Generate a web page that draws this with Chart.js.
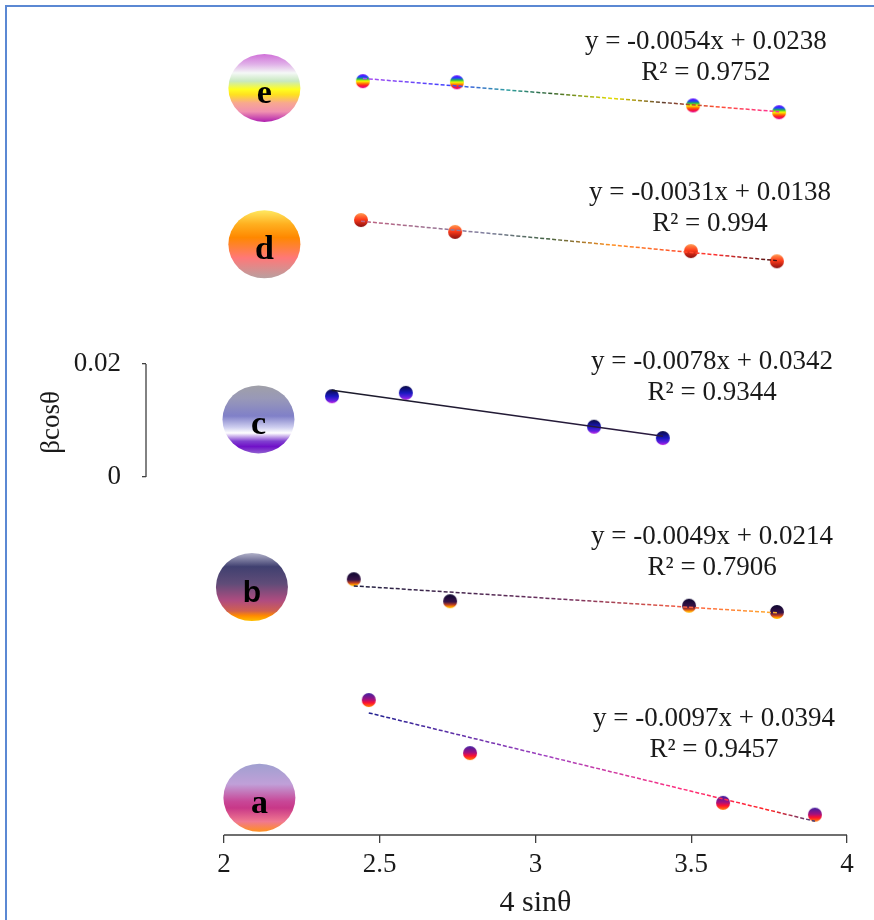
<!DOCTYPE html>
<html>
<head>
<meta charset="utf-8">
<script src="https://cdn.jsdelivr.net/npm/chart.js@4.4.0/dist/chart.umd.min.js"></script>
<style>
  html, body { margin: 0; padding: 0; background: #fff; }
  #wrap { position: relative; width: 874px; height: 920px; overflow: hidden; }
  #frame { position: absolute; left: 5px; top: 5px; width: 900px; height: 950px;
           border-left: 2px solid #5b88d3; border-top: 2px solid #5b88d3; pointer-events: none; }
  canvas { position: absolute; left: 0; top: 0; }
</style>
</head>
<body>
<div id="wrap">
  <canvas id="chart" width="874" height="920"></canvas>
  <div id="frame"></div>
</div>
<script>
// samples, top to bottom as they are stacked in the figure
const SAMPLES = [`e`, `d`, `c`, `b`, `a`];

// 4 sinθ
const xE = [2.446, 2.748, 3.506, 3.782];
const xD = [2.440, 2.742, 3.499, 3.775];
const xC = [2.347, 2.584, 3.188, 3.409];
const xB = [2.417, 2.726, 3.493, 3.775];
const xA = [2.465, 2.790, 3.602, 3.897];

// βcosθ as plotted (curves are shifted up/down to stack them)
const yE = [0.0701, 0.0699, 0.0658, 0.0646];
const yD = [0.0455, 0.0434, 0.0400, 0.0382];
const yC = [0.0143, 0.0149, 0.0089, 0.0069];
const yB = [-0.0181, -0.0220, -0.0228, -0.0239];
const yA = [-0.0395, -0.0489, -0.0577, -0.0598];

const equations = [
  `y = -0.0054x + 0.0238`,
  `y = -0.0031x + 0.0138`,
  `y = -0.0078x + 0.0342`,
  `y = -0.0049x + 0.0214`,
  `y = -0.0097x + 0.0394`,
];
const rSquared = [`R² = 0.9752`, `R² = 0.994`, `R² = 0.9344`, `R² = 0.7906`, `R² = 0.9457`];

const xTicks = [2, 2.5, 3, 3.5, 4];
const yTicks = [0, 0.02];

const X_TITLE = `4 sinθ`;
const Y_TITLE = `βcosθ`;

const SERIF = `"Liberation Serif", "Times New Roman", serif`;
const SANS = `"Liberation Sans", Arial, sans-serif`;
const TEXT_COLOR = `#1a1a1a`;
const AXIS_COLOR = `#404040`;

const xs = [xE, xD, xC, xB, xA];
const ys = [yE, yD, yC, yB, yA];

// where the letter disks and the trendline labels sit, in axis units
const badgeX = [2.130, 2.130, 2.111, 2.090, 2.114];
const badgeY = [0.0689, 0.0412, 0.0102, -0.0195, -0.0568];
const labelX = [3.547, 3.560, 3.567, 3.567, 3.573];
const labelY = [0.0770, 0.0503, 0.0204, -0.0106, -0.0428];

const MARKER_STOPS = [
  [[0, `#6a00ff`], [0.2, `#2040ff`], [0.35, `#20c040`], [0.5, `#ffff00`], [0.65, `#ff8000`], [0.8, `#ff2020`], [1, `#e000a0`]],
  [[0, `#ff9a50`], [0.45, `#ff3b1a`], [1, `#8a1010`]],
  [[0, `#0a0a40`], [0.5, `#1818c0`], [0.8, `#6020e0`], [1, `#c020e0`]],
  [[0, `#0d0630`], [0.55, `#3a1448`], [0.75, `#c04020`], [0.88, `#ff9000`], [1, `#ffd000`]],
  [[0, `#4020a0`], [0.45, `#a01080`], [0.7, `#ff1030`], [1, `#ff8000`]],
];

const LINE_STOPS = [
  [[0, `#b050f0`], [0.2, `#4040ff`], [0.35, `#30a0a0`], [0.45, `#306030`], [0.6, `#e8e000`], [0.72, `#604030`], [0.85, `#ff5030`], [1, `#ff30a0`]],
  [[0, `#c06080`], [0.3, `#8080a0`], [0.45, `#406040`], [0.6, `#ff9020`], [0.85, `#ff3030`], [1, `#401010`]],
  [[0, `#1a1a2a`], [1, `#2a1a40`]],
  [[0, `#202040`], [0.5, `#703060`], [0.8, `#ff6040`], [1, `#ffb030`]],
  [[0, `#202090`], [0.4, `#a040c0`], [0.7, `#ff3080`], [0.9, `#ff2020`], [1, `#404080`]],
];

const BADGE_STOPS = [
  [[0, `#d070d8`], [0.15, `#e0b0e8`], [0.28, `#f4f8f6`], [0.4, `#c8e8c0`], [0.52, `#ffff20`], [0.6, `#ffe020`], [0.72, `#f8a890`], [0.85, `#f090b0`], [1, `#b020b0`]],
  [[0, `#ffe860`], [0.2, `#ffb020`], [0.4, `#ff8800`], [0.7, `#ff7878`], [1, `#b8a0a0`]],
  [[0, `#a0a0a8`], [0.2, `#9898b8`], [0.45, `#8080c8`], [0.62, `#d0d0f0`], [0.7, `#ffffff`], [0.82, `#8040d0`], [0.9, `#7010c8`], [1, `#9060d0`]],
  [[0, `#b0b0c8`], [0.2, `#404070`], [0.45, `#604c78`], [0.7, `#b04c80`], [0.85, `#d06050`], [0.92, `#ff8a00`], [1, `#ffc000`]],
  [[0, `#a0a0d0`], [0.3, `#c0a0d8`], [0.55, `#c84898`], [0.65, `#c83888`], [0.85, `#f07890`], [1, `#ff9020`]],
];

const fitLine = (xv, yv) => {
  const n = xv.length;
  const mx = xv.reduce((s, v) => s + v, 0) / n;
  const my = yv.reduce((s, v) => s + v, 0) / n;
  let sxy = 0;
  let sxx = 0;
  for (let i = 0; i < n; i++) {
    sxy += (xv[i] - mx) * (yv[i] - my);
    sxx += (xv[i] - mx) * (xv[i] - mx);
  }
  const k = sxy / sxx;
  const b = my - k * mx;
  return [{x: xv[0], y: k * xv[0] + b}, {x: xv[n - 1], y: k * xv[n - 1] + b}];
};

const makeMarker = (stops, r) => {
  const c = document.createElement(`canvas`);
  c.width = c.height = r * 2 + 2;
  const g = c.getContext(`2d`);
  const grad = g.createLinearGradient(0, 1, 0, 2 * r + 1);
  stops.forEach(([o, col]) => grad.addColorStop(o, col));
  g.fillStyle = grad;
  g.beginPath();
  g.arc(r + 1, r + 1, r, 0, Math.PI * 2);
  g.fill();
  return c;
};

const lineGradient = (stops) => (context) => {
  const {chart} = context;
  const {ctx, chartArea, scales} = chart;
  if (!chartArea) {
    return stops[0][1];
  }
  const pts = chart.data.datasets[context.datasetIndex].data;
  const x0 = scales.x.getPixelForValue(pts[0].x);
  const x1 = scales.x.getPixelForValue(pts[pts.length - 1].x);
  const grad = ctx.createLinearGradient(x0, 0, x1, 0);
  stops.forEach(([o, col]) => grad.addColorStop(o, col));
  return grad;
};

const datasets = [];
SAMPLES.forEach((name, i) => {
  datasets.push({
    type: `line`,
    label: `fit ${name}`,
    data: fitLine(xs[i], ys[i]),
    borderColor: lineGradient(LINE_STOPS[i]),
    borderWidth: name === `c` ? 1.6 : 1.5,
    borderDash: name === `c` ? [] : [4, 2],
    pointRadius: 0,
    fill: false,
    clip: false,
  });
  datasets.push({
    label: name,
    data: xs[i].map((x, j) => ({x, y: ys[i][j]})),
    pointStyle: makeMarker(MARKER_STOPS[i], 7),
    pointRadius: 7,
    clip: false,
  });
});

const badgePlugin = {
  id: `badges`,
  beforeDatasetsDraw(chart) {
    const {ctx, scales: {x, y}} = chart;
    SAMPLES.forEach((name, i) => {
      const cx = x.getPixelForValue(badgeX[i]);
      const cy = y.getPixelForValue(badgeY[i]);
      const rx = 36;
      const ry = 34;
      const grad = ctx.createLinearGradient(0, cy - ry, 0, cy + ry);
      BADGE_STOPS[i].forEach(([o, col]) => grad.addColorStop(o, col));
      ctx.save();
      ctx.fillStyle = grad;
      ctx.beginPath();
      ctx.ellipse(cx, cy, rx, ry, 0, 0, Math.PI * 2);
      ctx.fill();
      ctx.fillStyle = `#000`;
      ctx.textAlign = `center`;
      ctx.textBaseline = `alphabetic`;
      ctx.font = name === `b` ? `bold 30px ${SANS}` : `bold 34px ${SERIF}`;
      ctx.fillText(name, cx, cy + 15);
      ctx.restore();
    });
  },
};

const labelPlugin = {
  id: `trendLabels`,
  afterDatasetsDraw(chart) {
    const {ctx, scales: {x, y}} = chart;
    ctx.save();
    ctx.fillStyle = TEXT_COLOR;
    ctx.font = `27px ${SERIF}`;
    ctx.textAlign = `center`;
    ctx.textBaseline = `middle`;
    SAMPLES.forEach((name, i) => {
      const px = x.getPixelForValue(labelX[i]);
      const py = y.getPixelForValue(labelY[i]);
      ctx.fillText(equations[i], px, py);
      ctx.fillText(rSquared[i], px, py + 31);
    });
    ctx.restore();
  },
};

// only the 2..4 stretch of the x axis and the 0..0.02 stretch of the y axis are drawn
const axisPlugin = {
  id: `partialAxes`,
  afterDraw(chart) {
    const {ctx, chartArea, scales: {x, y}} = chart;
    const xa = x.getPixelForValue(xTicks[0]);
    const xb = x.getPixelForValue(xTicks[xTicks.length - 1]);
    ctx.save();
    ctx.strokeStyle = AXIS_COLOR;
    ctx.lineWidth = 1.3;
    ctx.beginPath();
    ctx.moveTo(xa, chartArea.bottom);
    ctx.lineTo(xb, chartArea.bottom);
    ctx.moveTo(chartArea.left, y.getPixelForValue(yTicks[0]));
    ctx.lineTo(chartArea.left, y.getPixelForValue(yTicks[yTicks.length - 1]));
    ctx.stroke();
    ctx.fillStyle = TEXT_COLOR;
    ctx.font = `30px ${SERIF}`;
    ctx.textAlign = `center`;
    ctx.textBaseline = `middle`;
    ctx.fillText(X_TITLE, (xa + xb) / 2, chart.height - 17);
    ctx.restore();
  },
};

new Chart(document.getElementById(`chart`), {
  type: `scatter`,
  data: {datasets},
  options: {
    responsive: false,
    animation: false,
    layout: {padding: {top: 10, right: 27, bottom: 0, left: 0}},
    plugins: {
      legend: {display: false},
      tooltip: {enabled: false},
    },
    scales: {
      x: {
        type: `linear`,
        min: 1.75,
        max: 4,
        afterBuildTicks: (axis) => {
          axis.ticks = xTicks.map((value) => ({value}));
        },
        afterFit: (axis) => {
          axis.height = 85;
          axis.paddingLeft = 0;
          axis.paddingRight = 0;
          axis.paddingTop = 0;
          axis.paddingBottom = 0;
        },
        grid: {drawOnChartArea: false, tickLength: 8, color: AXIS_COLOR, lineWidth: 1.3},
        border: {display: false},
        ticks: {
          font: {family: SERIF, size: 27},
          color: TEXT_COLOR,
          padding: 6,
          maxRotation: 0,
          autoSkip: false,
          callback: (v) => String(v),
        },
      },
      y: {
        type: `linear`,
        min: -0.0634,
        max: 0.0827,
        afterBuildTicks: (axis) => {
          axis.ticks = yTicks.map((value) => ({value}));
        },
        afterFit: (axis) => {
          axis.width = 146;
          axis.paddingLeft = 0;
          axis.paddingRight = 0;
          axis.paddingTop = 0;
          axis.paddingBottom = 0;
        },
        grid: {drawOnChartArea: false, tickLength: 4, color: AXIS_COLOR, lineWidth: 1.3},
        border: {display: false},
        ticks: {
          font: {family: SERIF, size: 27},
          color: TEXT_COLOR,
          padding: 21,
          callback: (v) => String(v),
        },
        title: {
          display: true,
          text: Y_TITLE,
          font: {family: SERIF, size: 27},
          color: TEXT_COLOR,
          padding: {top: 36, bottom: 0},
        },
      },
    },
  },
  plugins: [badgePlugin, labelPlugin, axisPlugin],
});
</script>
</body>
</html>
